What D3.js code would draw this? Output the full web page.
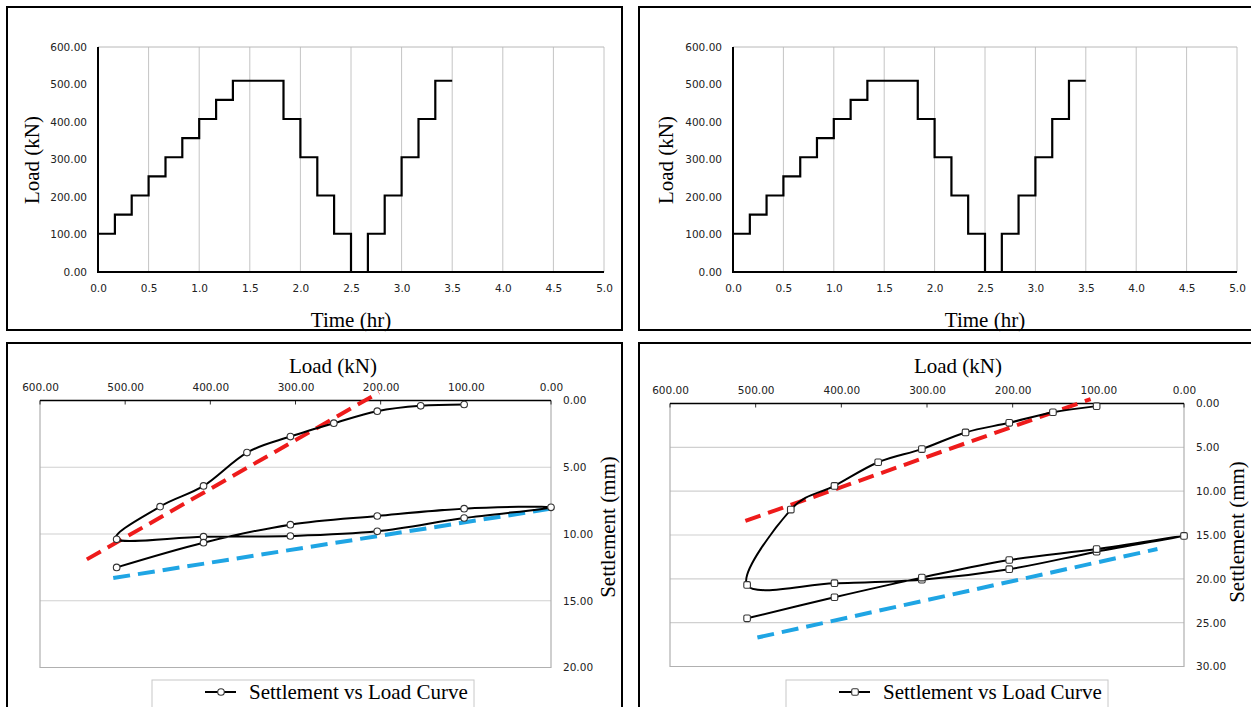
<!DOCTYPE html>
<html>
<head>
<meta charset="utf-8">
<script src="https://cdn.jsdelivr.net/npm/d3@7"></script>
<style>
  html, body { margin: 0; padding: 0; background: #fff; overflow: hidden; }
  svg { display: block; }
  .tick text { font-family: "DejaVu Sans", Verdana, sans-serif; font-size: 10.5px; fill: #222; }
  .title { font-family: "Liberation Serif", "Times New Roman", serif; font-size: 21px; fill: #000; }
</style>
</head>
<body>
<svg id="chart" width="1251" height="707"></svg>
<script>
// ---------- Data ----------
// Load vs time (step series, value holds from each time until the next)
const timeHr = [0, 0.167, 0.333, 0.5, 0.667, 0.833, 1.0, 1.167, 1.333, 1.833, 2.0, 2.167, 2.333, 2.5, 2.667, 2.833, 3.0, 3.167, 3.333, 3.5];
const loadStep = [102, 153, 204, 255, 306, 357, 408, 459, 510, 408, 306, 204, 102, 0, 102, 204, 306, 408, 510, 510];
const timeTicks = [0, 0.5, 1, 1.5, 2, 2.5, 3, 3.5, 4, 4.5, 5];
const loadTicks = [0, 100, 200, 300, 400, 500, 600];

// Settlement vs load (load, unload, reload)
const loadSeq = [102, 153, 204, 255, 306, 357, 408, 459, 510, 408, 306, 204, 102, 0, 102, 204, 306, 408, 510];
const settleLeft = [0.3, 0.4, 0.8, 1.7, 2.7, 3.9, 6.4, 7.95, 10.4, 10.2, 10.15, 9.8, 8.8, 8.0, 8.1, 8.65, 9.3, 10.65, 12.5];
const settleRight = [0.3, 1.0, 2.2, 3.3, 5.2, 6.7, 9.4, 12.1, 20.7, 20.5, 20.1, 18.9, 16.9, 15.1, 16.6, 17.85, 19.86, 22.1, 24.5];
const settleTicksLeft = [0, 5, 10, 15, 20];
const settleTicksRight = [0, 5, 10, 15, 20, 25, 30];

// Dashed trend lines [load, settlement] end points
const redLeft = [[545, 11.9], [202, -0.6]];
const blueLeft = [[514, 13.3], [0, 8.1]];
const redRight = [[512, 13.4], [109, -0.5]];
const blueRight = [[498, 26.7], [31, 16.6]];

const legendLabel = "Settlement vs Load Curve";

// ---------- Drawing ----------
const svg = d3.select("#chart");
svg.append("rect").attr("width", 1251).attr("height", 707).attr("fill", "#fff");

// panel frames
const frames = [[7, 7, 615, 323], [639, 7, 620, 323], [7, 343, 615, 380], [639, 343, 620, 380]];
svg.selectAll("rect.frame").data(frames).join("rect")
  .attr("class", "frame")
  .attr("x", d => d[0]).attr("y", d => d[1])
  .attr("width", d => d[2]).attr("height", d => d[3])
  .attr("fill", "none").attr("stroke", "#000").attr("stroke-width", 2);

function topPanel(x0, x1, yTitleX) {
  const x = d3.scaleLinear().domain([0, 5]).range([x0, x1]);
  const y = d3.scaleLinear().domain([0, 600]).range([272, 47]);
  const g = svg.append("g");
  // vertical grid
  g.selectAll("line.grid").data(timeTicks.slice(1)).join("line")
    .attr("x1", d => x(d)).attr("x2", d => x(d))
    .attr("y1", y(600)).attr("y2", y(0))
    .attr("stroke", "#c4c4c4").attr("stroke-width", 1);
  // top border
  g.append("line").attr("x1", x(0)).attr("x2", x(5)).attr("y1", y(600)).attr("y2", y(600))
    .attr("stroke", "#b8b8b8").attr("stroke-width", 1);
  // axes
  const ax = g.append("g").attr("transform", `translate(0,${y(0)})`)
    .call(d3.axisBottom(x).tickValues(timeTicks).tickFormat(d3.format(".1f")).tickSize(0).tickPadding(13));
  ax.select(".domain").remove();
  const ay = g.append("g").attr("transform", `translate(${x(0)},0)`)
    .call(d3.axisLeft(y).tickValues(loadTicks).tickFormat(d3.format(".2f")).tickSize(0).tickPadding(11));
  ay.select(".domain").remove();
  g.append("line").attr("x1", x(0)).attr("x2", x(5)).attr("y1", y(0)).attr("y2", y(0))
    .attr("stroke", "#000").attr("stroke-width", 2);
  g.append("line").attr("x1", x(0)).attr("x2", x(0)).attr("y1", y(600)).attr("y2", y(0) + 1)
    .attr("stroke", "#000").attr("stroke-width", 2);
  // step line
  const line = d3.line().x((d, i) => x(timeHr[i])).y(d => y(d)).curve(d3.curveStepAfter);
  g.append("path").attr("d", line(loadStep))
    .attr("fill", "none").attr("stroke", "#000").attr("stroke-width", 2.2);
  // titles
  g.append("text").attr("class", "title").attr("text-anchor", "middle")
    .attr("x", (x0 + x1) / 2).attr("y", 327).text("Time (hr)");
  g.append("text").attr("class", "title").attr("text-anchor", "middle")
    .attr("transform", `translate(${yTitleX},160) rotate(-90)`).text("Load (kN)");
}

topPanel(98, 604, 39);
topPanel(733, 1237, 673);

function bottomPanel(opts) {
  const x = d3.scaleLinear().domain([600, 0]).range([opts.x0, opts.x1]);
  const y = d3.scaleLinear().domain([0, opts.maxS]).range([opts.y0, opts.y1]);
  const g = svg.append("g");
  // grid
  g.selectAll("line.grid").data(opts.sTicks.slice(1, -1)).join("line")
    .attr("x1", x(600)).attr("x2", x(0))
    .attr("y1", d => y(d)).attr("y2", d => y(d))
    .attr("stroke", "#d0d0d0").attr("stroke-width", 1.2);
  // plot border
  g.append("path")
    .attr("d", `M${x(600)},${y(0)}V${y(opts.maxS)}H${x(0)}V${y(0)}`)
    .attr("fill", "none").attr("stroke", "#b0b0b0").attr("stroke-width", 1.2);
  // top axis
  const at = g.append("g").attr("transform", `translate(0,${y(0)})`)
    .call(d3.axisTop(x).tickValues(loadTicks).tickFormat(d3.format(".2f")).tickSize(0).tickPadding(10));
  at.select(".domain").remove();
  g.selectAll("line.tk").data(loadTicks).join("line")
    .attr("x1", d => x(d)).attr("x2", d => x(d))
    .attr("y1", y(0)).attr("y2", y(0) + 4)
    .attr("stroke", "#333").attr("stroke-width", 1);
  g.append("line").attr("x1", x(600)).attr("x2", x(0)).attr("y1", y(0)).attr("y2", y(0))
    .attr("stroke", "#000").attr("stroke-width", 1.6);
  // right axis
  const ar = g.append("g").attr("transform", `translate(${x(0)},0)`)
    .call(d3.axisRight(y).tickValues(opts.sTicks).tickFormat(d3.format(".2f")).tickSize(0).tickPadding(12));
  ar.select(".domain").remove();
  // dashed trend lines
  const tl = d3.line().x(d => x(d[0])).y(d => y(d[1]));
  g.append("path").attr("d", tl(opts.red)).attr("fill", "none")
    .attr("stroke", "#ee1b1b").attr("stroke-width", 4).attr("stroke-dasharray", "16,8");
  g.append("path").attr("d", tl(opts.blue)).attr("fill", "none")
    .attr("stroke", "#1fa5e4").attr("stroke-width", 4).attr("stroke-dasharray", "17,8");
  // curve
  const cl = d3.line().x((d, i) => x(loadSeq[i])).y(d => y(d)).curve(d3.curveCatmullRom.alpha(0));
  g.append("path").attr("d", cl(opts.s)).attr("fill", "none")
    .attr("stroke", "#000").attr("stroke-width", 2);
  // markers
  const pts = opts.s.map((v, i) => [loadSeq[i], v]);
  if (opts.marker === "circle") {
    g.selectAll("circle.pt").data(pts).join("circle")
      .attr("cx", d => x(d[0])).attr("cy", d => y(d[1])).attr("r", 3.3)
      .attr("fill", "#fff").attr("stroke", "#333").attr("stroke-width", 1.1);
  } else {
    g.selectAll("rect.pt").data(pts).join("rect")
      .attr("x", d => x(d[0]) - 3.3).attr("y", d => y(d[1]) - 3.3)
      .attr("width", 6.6).attr("height", 6.6).attr("rx", 1.5)
      .attr("fill", "#fff").attr("stroke", "#333").attr("stroke-width", 1.1);
  }
  // titles
  g.append("text").attr("class", "title").attr("text-anchor", "middle")
    .attr("x", opts.titleX).attr("y", 373).text("Load (kN)");
  g.append("text").attr("class", "title").attr("text-anchor", "middle")
    .attr("transform", `translate(${opts.sTitleX},${opts.sTitleY}) rotate(-90)`).text("Settlement (mm)");
  // legend
  const lg = g.append("g");
  lg.append("rect").attr("x", opts.legX).attr("y", 680).attr("width", 322).attr("height", 40)
    .attr("fill", "#fff").attr("stroke", "#c8c8c8").attr("stroke-width", 1);
  lg.append("line").attr("x1", opts.legX + 53).attr("x2", opts.legX + 84)
    .attr("y1", 692).attr("y2", 692).attr("stroke", "#000").attr("stroke-width", 2);
  if (opts.marker === "circle") {
    lg.append("circle").attr("cx", opts.legX + 69).attr("cy", 692).attr("r", 3.3)
      .attr("fill", "#fff").attr("stroke", "#333").attr("stroke-width", 1.1);
  } else {
    lg.append("rect").attr("x", opts.legX + 65.7).attr("y", 688.7).attr("width", 6.6).attr("height", 6.6)
      .attr("rx", 1.5).attr("fill", "#fff").attr("stroke", "#333").attr("stroke-width", 1.1);
  }
  lg.append("text").attr("class", "title").attr("x", opts.legX + 97).attr("y", 699).text(legendLabel);
}

bottomPanel({
  x0: 40, x1: 551, y0: 400.5, y1: 667.5, maxS: 20, sTicks: settleTicksLeft,
  s: settleLeft, red: redLeft, blue: blueLeft, marker: "circle",
  titleX: 333, sTitleX: 615, sTitleY: 527, legX: 152
});
bottomPanel({
  x0: 670, x1: 1184, y0: 403.5, y1: 666.5, maxS: 30, sTicks: settleTicksRight,
  s: settleRight, red: redRight, blue: blueRight, marker: "square",
  titleX: 958, sTitleX: 1244, sTitleY: 532, legX: 786
});
</script>
</body>
</html>
